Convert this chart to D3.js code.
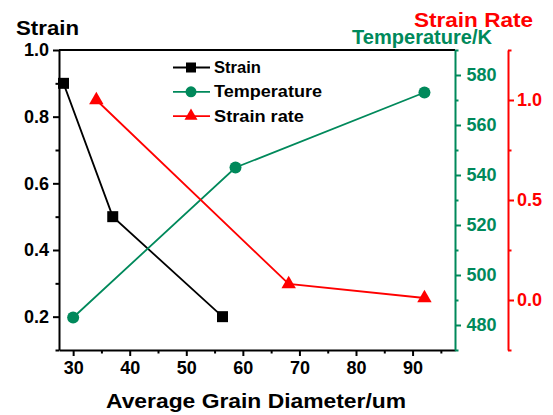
<!DOCTYPE html>
<html>
<head>
<meta charset="utf-8">
<script src="https://cdn.jsdelivr.net/npm/d3@7"></script>
<style>
  html, body { margin: 0; padding: 0; background: #fff; }
  svg { display: block; font-family: "Liberation Sans", Arial, sans-serif; font-weight: bold; }
</style>
</head>
<body>
<svg id="chart" width="553" height="415"></svg>
<script>
// Grain diameter (um) for each series
const strainX = [28.3, 37.0, 56.4];
const strainY = [0.9, 0.5, 0.2];

const tempX = [30.0, 58.7, 92.1];
const tempY = [483, 543, 573];

const rateX = [34.1, 68.1, 92.1];
const rateY = [1.0, 0.08, 0.01];

const xTicks = [30, 40, 50, 60, 70, 80, 90];
const strainTicks = [0.2, 0.4, 0.6, 0.8, 1.0];
const tempTicks = [480, 500, 520, 540, 560, 580];
const rateTicks = [0.0, 0.5, 1.0];

const GREEN = "#00895b";
const RED = "#ff0000";

const svg = d3.select("#chart");
const plotL = 59, plotR = 455, plotT = 50, plotB = 350;

const x = d3.scaleLinear().domain([27.5, 97.5]).range([plotL, plotR]);
const yS = d3.scaleLinear().domain([0.1, 1.0]).range([plotB, plotT]);
const yT = d3.scaleLinear().domain([470, 590]).range([plotB, plotT]);
const yR = d3.scaleLinear().domain([-0.25, 1.25]).range([plotB, plotT]);
const rateAxisX = 508;

function styleAxis(g, color, width) {
  g.select(".domain").attr("stroke", color).attr("stroke-width", width);
  g.selectAll(".tick line").attr("stroke", color).attr("stroke-width", width);
  g.selectAll(".tick text").attr("fill", color)
    .style("font-size", "18px").style("font-weight", "bold")
    .style("font-family", "'Liberation Sans', Arial, sans-serif");
}

// top frame line
svg.append("line").attr("x1", plotL).attr("x2", plotR).attr("y1", plotT).attr("y2", plotT)
  .attr("stroke", "#000").attr("stroke-width", 2);

// bottom axis: minor then major
svg.append("g").attr("transform", `translate(0,${plotB})`)
  .call(d3.axisBottom(x).tickValues(d3.range(35, 97, 10)).tickSize(3.5).tickFormat(""))
  .call(g => { styleAxis(g, "#000", 2); g.select(".domain").remove(); });
svg.append("g").attr("transform", `translate(0,${plotB})`)
  .call(d3.axisBottom(x).tickValues(xTicks).tickSize(6).tickSizeOuter(0).tickPadding(5).tickFormat(d3.format("d")))
  .call(g => styleAxis(g, "#000", 2));

// left strain axis
svg.append("g").attr("transform", `translate(${plotL},0)`)
  .call(d3.axisLeft(yS).tickValues([0.1, 0.3, 0.5, 0.7, 0.9]).tickSize(3.5).tickFormat(""))
  .call(g => { styleAxis(g, "#000", 2); g.select(".domain").remove(); });
svg.append("g").attr("transform", `translate(${plotL},0)`)
  .call(d3.axisLeft(yS).tickValues(strainTicks).tickSize(6).tickSizeOuter(0).tickPadding(4).tickFormat(d3.format(".1f")))
  .call(g => styleAxis(g, "#000", 2));

// temperature axis
svg.append("g").attr("transform", `translate(${plotR},0)`)
  .call(d3.axisRight(yT).tickValues(d3.range(470, 591, 20)).tickSize(3.5).tickFormat(""))
  .call(g => { styleAxis(g, GREEN, 2); g.select(".domain").remove(); });
svg.append("g").attr("transform", `translate(${plotR},0)`)
  .call(d3.axisRight(yT).tickValues(tempTicks).tickSize(6).tickSizeOuter(0).tickPadding(5.5).tickFormat(d3.format("d")))
  .call(g => styleAxis(g, GREEN, 2));

// strain-rate axis
svg.append("g").attr("transform", `translate(${rateAxisX},0)`)
  .call(d3.axisRight(yR).tickValues([-0.25, 0.25, 0.75, 1.25]).tickSize(3.5).tickFormat(""))
  .call(g => { styleAxis(g, RED, 2); g.select(".domain").remove(); });
svg.append("g").attr("transform", `translate(${rateAxisX},0)`)
  .call(d3.axisRight(yR).tickValues(rateTicks).tickSize(6).tickSizeOuter(0).tickPadding(3).tickFormat(d3.format(".1f")))
  .call(g => styleAxis(g, RED, 2));

// series
const sq = d3.symbol().type(d3.symbolSquare).size(121);
const circ = d3.symbol().type(d3.symbolCircle).size(Math.PI * 36);
const tri = d3.symbol().type(d3.symbolTriangle).size(90);

function series(xs, ys, yScale, color, sym) {
  const pts = xs.map((v, i) => [x(v), yScale(ys[i])]);
  svg.append("path").attr("d", d3.line()(pts)).attr("fill", "none")
    .attr("stroke", color).attr("stroke-width", 1.8);
  svg.selectAll(null).data(pts).enter().append("path")
    .attr("d", sym).attr("transform", d => `translate(${d[0]},${d[1]})`)
    .attr("fill", color);
}
series(strainX, strainY, yS, "#000", sq);
series(tempX, tempY, yT, GREEN, circ);
series(rateX, rateY, yR, RED, tri);

// legend
const legend = [
  { name: "Strain", color: "#000", len: 47, sym: d3.symbol().type(d3.symbolSquare).size(100) },
  { name: "Temperature", color: GREEN, len: 108, sym: d3.symbol().type(d3.symbolCircle).size(Math.PI * 30) },
  { name: "Strain rate", color: RED, len: 90, sym: d3.symbol().type(d3.symbolTriangle).size(73) }
];
legend.forEach((d, i) => {
  const cy = 67.5 + i * 24.3;
  const g = svg.append("g");
  g.append("line").attr("x1", 173).attr("x2", 210).attr("y1", cy).attr("y2", cy)
    .attr("stroke", d.color).attr("stroke-width", 1.8);
  g.append("path").attr("d", d.sym).attr("transform", `translate(191,${cy})`).attr("fill", d.color);
  g.append("text").attr("x", 214).attr("y", cy + 5.5).text(d.name)
    .attr("textLength", d.len).attr("lengthAdjust", "spacingAndGlyphs")
    .attr("fill", "#000").style("font-size", "17px");
});

// titles
svg.append("text").attr("x", 16).attr("y", 35).text("Strain")
  .attr("textLength", 63).attr("lengthAdjust", "spacingAndGlyphs").style("font-size", "20px");
svg.append("text").attr("x", 352).attr("y", 43.5).text("Temperature/K")
  .attr("textLength", 140).attr("lengthAdjust", "spacingAndGlyphs")
  .attr("fill", GREEN).style("font-size", "20px");
svg.append("text").attr("x", 414).attr("y", 26.5).text("Strain Rate")
  .attr("textLength", 119).attr("lengthAdjust", "spacingAndGlyphs")
  .attr("fill", RED).style("font-size", "20px");
svg.append("text").attr("x", 106).attr("y", 408).text("Average Grain Diameter/um")
  .attr("textLength", 300).attr("lengthAdjust", "spacingAndGlyphs").style("font-size", "21px");
</script>
</body>
</html>
